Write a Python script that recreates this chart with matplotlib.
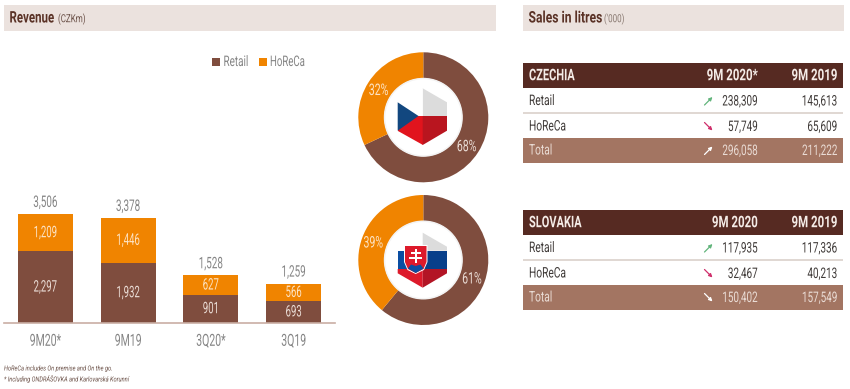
import matplotlib
matplotlib.use("Agg")
import matplotlib.pyplot as plt
from matplotlib.patches import Rectangle, Polygon, Circle
from matplotlib.patheffects import AbstractPathEffect
from matplotlib.transforms import Affine2D, Bbox

W, H = 850, 389
plt.rcParams['font.family'] = ['Roboto', 'DejaVu Sans']

# ---------- data ----------
periods = ['9M20*', '9M19', '3Q20*', '3Q19']
retail = [2297, 1932, 901, 693]
horeca = [1209, 1446, 627, 566]
totals = ['3,506', '3,378', '1,528', '1,259']
cz_share = [68, 32]
sk_share = [61, 39]
cz_cols = ['CZECHIA', '9M 2020*', '9M 2019']
sk_cols = ['SLOVAKIA', '9M 2020', '9M 2019']
row_names = ['Retail', 'HoReCa', 'Total']
cz_2020 = ['238,309', '57,749', '296,058']
cz_2019 = ['145,613', '65,609', '211,222']
sk_2020 = ['117,935', '32,467', '150,402']
sk_2019 = ['117,336', '40,213', '157,549']
cz_trend = ['up', 'down', 'up']
sk_trend = ['up', 'down', 'down']

BROWN = '#7f4d3e'
ORANGE = '#f08400'
DARK = '#562a22'
BAND = '#ebe2de'
TOTAL = '#a37562'
GREY = '#858585'


class Condense(AbstractPathEffect):
    """Draw a text narrower, about its anchor, since no condensed face is installed."""
    def __init__(self, text, sx):
        super().__init__()
        self.text, self.sx = text, sx

    def anchor(self):
        return self.text.get_transform().transform(self.text.get_unitless_position())[0]

    def draw_path(self, renderer, gc, tpath, affine, rgbFace=None):
        a = self.anchor()
        t = affine + Affine2D().translate(-a, 0).scale(self.sx, 1).translate(a, 0)
        renderer.draw_path(gc, tpath, t, rgbFace)


def narrow(t, sx):
    eff = Condense(t, sx)
    t.set_path_effects([eff])
    orig = t.get_window_extent

    def extent(renderer=None, dpi=None):
        b = orig(renderer, dpi)
        a = eff.anchor()
        return Bbox([[a + (b.x0 - a) * sx, b.y0], [a + (b.x1 - a) * sx, b.y1]])
    t.get_window_extent = extent
    return t


fig = plt.figure(figsize=(W / 100, H / 100), dpi=100, facecolor='white')


def axes_px(x0, y0, x1, y1, **kw):
    return fig.add_axes([x0 / W, 1 - y1 / H, (x1 - x0) / W, (y1 - y0) / H], **kw)


pg = axes_px(0, 0, W, H)
pg.set_xlim(0, W); pg.set_ylim(H, 0); pg.axis('off')


def rect(x0, y0, x1, y1, c, z=1):
    pg.add_patch(Rectangle((x0, y0), x1 - x0, y1 - y0, fc=c, ec='none', zorder=z))


def label(x, y, s, size, sx, color, ha='left', layer=None, **kw):
    t = (layer or pg).text(x, y, s, fontsize=size, color=color, ha=ha, va='center', zorder=8, **kw)
    return narrow(t, sx)


rect(4, 5, 496, 31, BAND)
rect(523, 5, 844, 31, BAND)
label(9.5, 18, 'Revenue', 11.5, .72, '#5a3226', fontweight='bold')
label(58, 19, '(CZKm)', 8, .72, '#6b5148')
label(528.5, 18, 'Sales in litres', 11.5, .76, '#5a3226', fontweight='bold')
label(604, 19, "('000)", 8, .72, '#8a7a72')

# legend
rect(212, 58, 220, 66, BROWN)
label(223.5, 62, 'Retail', 10.5, .68, GREY)
rect(259, 58, 267, 66, ORANGE)
label(270, 62, 'HoReCa', 10.5, .66, GREY)

# footnotes
label(4, 368.5, 'HoReCa includes On premise and On the go.', 5, .82, '#6b5148', style='italic')
label(4, 378.5, '* Including ONDRÁŠOVKA and Karlovarská Korunní', 5, .82, '#6b5148', style='italic')

# ---------- stacked bars ----------
ax = axes_px(4, 200, 335, 322.7)
ax.patch.set_alpha(0)
xs = list(range(len(periods)))
ax.bar(xs, retail, width=0.665, color=BROWN)
ax.bar(xs, horeca, width=0.665, bottom=retail, color=ORANGE)
ax.set_xlim(-0.5, 3.5)
ax.set_ylim(0, 123 / 109 * 3506)
for s in ['top', 'left', 'right']:
    ax.spines[s].set_visible(False)
ax.spines['bottom'].set_color('#c9aea4')
ax.spines['bottom'].set_linewidth(1.2)
ax.set_yticks([])
ax.set_xticks(xs)
ax.set_xticklabels(periods, fontsize=12, color=GREY)
for t in ax.get_xticklabels():
    narrow(t, .63)
ax.tick_params(axis='x', length=0, pad=8)
for x, r, h, t in zip(xs, retail, horeca, totals):
    narrow(ax.text(x, r / 2, f'{r:,}', ha='center', va='center', fontsize=11.5, color='#eadcd5'), .6)
    narrow(ax.text(x, r + h / 2, f'{h:,}', ha='center', va='center', fontsize=11.5, color='#fde3c4'), .6)
    narrow(ax.text(x, r + h + 130, t, ha='center', va='bottom', fontsize=11.5, color=GREY, clip_on=False), .62)


# ---------- donuts ----------
def donut(cy, share):
    cx, R = 423.3, 65
    a = axes_px(cx - R, cy - R, cx + R, cy + R)
    a.pie(share, colors=[BROWN, ORANGE], startangle=90, counterclock=False, radius=1,
          wedgeprops=dict(width=26 / 65, ec='none'))
    a.set_xlim(-1, 1); a.set_ylim(-1, 1)
    a.patch.set_alpha(0)


donut(117.3, cz_share)
donut(260, sk_share)

# flags and percentages on a top layer
fl = axes_px(0, 0, W, H)
fl.set_xlim(0, W); fl.set_ylim(H, 0); fl.axis('off'); fl.patch.set_alpha(0)

for v, (x, y), c in zip(cz_share + sk_share,
                        [(466.7, 146.7), (378.7, 90.5), (472, 279), (373.3, 243)],
                        ['#eadcd5', '#fde3c4'] * 2):
    label(x, y, f'{v}%', 11.5, .66, c, ha='center', layer=fl)


def poly(pts, c, z=2):
    fl.add_patch(Polygon(pts, closed=True, fc=c, ec='none', zorder=z))


for cy in (117.3, 260):
    fl.add_patch(Circle((423.3, cy), 39.5, fc='#f3f3f3', ec='none', zorder=0))
    fl.add_patch(Circle((423.3, cy), 38, fc='white', ec='none', zorder=1))

# Czech flag
L, C, Rt = 397.7, 422.7, 447
poly([(C, 88.3), (Rt, 102.3), (Rt, 116), (C, 116)], '#dcdcdc')
poly([(C, 88.3), (L, 102.3), (L, 116), (C, 116)], '#ffffff')
poly([(L, 130.7), (L, 116), (C, 116), (C, 145)], '#e1141d')
poly([(Rt, 116), (Rt, 130.7), (C, 145), (C, 116)], '#b9151f')
poly([(L, 102.3), (418.5, 116), (L, 130.7)], '#12477f', 3)

# Slovak flag
poly([(C, 232.7), (L, 246.7), (L, 250.7), (C, 250.7)], '#ffffff')
poly([(C, 232.7), (Rt, 246.7), (Rt, 250.7), (C, 250.7)], '#dcdcdc')
poly([(L, 250.7), (C, 250.7), (C, 269), (L, 269)], '#0b4ea2')
poly([(C, 250.7), (Rt, 250.7), (Rt, 269), (C, 269)], '#083f8a')
poly([(L, 269), (C, 269), (C, 287.7), (L, 273.3)], '#dd1a2b')
poly([(C, 269), (Rt, 269), (Rt, 273.3), (C, 287.7)], '#b31525')
shield_o = [(404, 245), (427.5, 245), (427.5, 262), (424, 270), (415.7, 274), (407.5, 270), (404, 262)]
shield_i = [(405, 246), (426.5, 246), (426.5, 262), (423.5, 269), (415.7, 273), (408, 269), (405, 262)]
poly(shield_o, '#ffffff', 4)
poly(shield_i, '#dd1a2b', 5)
poly([(408, 268.5), (411, 264.5), (415.7, 266), (420.5, 264.5), (423.5, 268.5), (415.7, 273)], '#0b4ea2', 6)
for (x0, y0, x1, y1) in [(414.7, 248.5, 416.9, 263), (411, 252, 420.6, 254), (409.5, 256.5, 422, 258.7)]:
    fl.add_patch(Rectangle((x0, y0), x1 - x0, y1 - y0, fc='white', ec='none', zorder=7))


# ---------- tables ----------
def table(top, cols, v20, v19, trends):
    rect(523, top, 843, top + 25, DARK)
    label(529, top + 12.7, cols[0], 11.5, .69, '#f5ece7', fontweight='bold')
    label(757.7, top + 12.7, cols[1], 11.5, .72, '#f5ece7', ha='right', fontweight='bold')
    label(837.3, top + 12.7, cols[2], 11.5, .72, '#f5ece7', ha='right', fontweight='bold')
    rect(523, top + 49.3, 843, top + 50.7, '#e0d8d3')
    rect(523, top + 75, 843, top + 100, TOTAL)
    ys = [top + 38, top + 63.5, top + 87.5]
    for i, y in enumerate(ys):
        tot = i == 2
        c = '#eadcd5' if tot else '#3f3a38'
        label(529, y, row_names[i], 10.5, .7, c)
        label(757.7, y + .5, v20[i], 10.5, .68, c, ha='right')
        label(837.3, y + .5, v19[i], 10.5, .68, c, ha='right')
        up = trends[i] == 'up'
        ac = 'white' if tot else ('#62b57c' if up else '#cf2f6b')
        start = (704.5, y + 4) if up else (704.5, y - 4)
        end = (712.5, y - 4) if up else (712.5, y + 4)
        pg.annotate('', xy=end, xytext=start, zorder=4,
                    arrowprops=dict(arrowstyle='-|>,head_width=0.1,head_length=0.2', color=ac, lw=0.9,
                                    shrinkA=0, shrinkB=0))


table(63, cz_cols, cz_2020, cz_2019, cz_trend)
table(210, sk_cols, sk_2020, sk_2019, sk_trend)

fig.savefig('out.png', dpi=100)
